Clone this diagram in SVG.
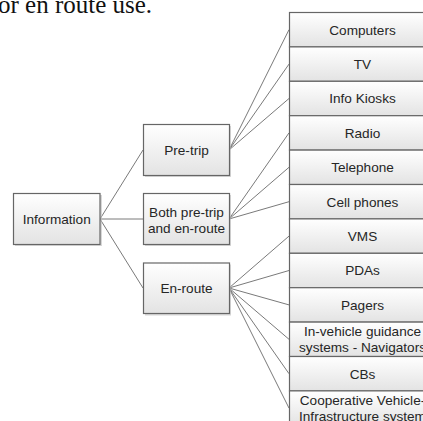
<svg xmlns="http://www.w3.org/2000/svg" width="423" height="421" viewBox="0 0 423 421">
<defs>
<linearGradient id="g" x1="0" y1="0" x2="0" y2="1">
<stop offset="0" stop-color="#ffffff"/>
<stop offset="1" stop-color="#e3e3e3"/>
</linearGradient>
</defs>
<style>
.box{fill:url(#g);stroke:#666666;stroke-width:1.2}
.sh{fill:#bdbdbd;opacity:0.6}
.t{font-family:"Liberation Sans",Arial,sans-serif;font-size:13.6px;fill:#262626;text-anchor:middle}
.c{stroke:#7a7a7a;stroke-width:1;fill:none}
.top{font-family:"Liberation Serif","Times New Roman",serif;font-size:25px;fill:#111}
</style>
<rect width="423" height="421" fill="#ffffff"/>
<text class="top" x="-2" y="13">or en route use.</text>
<g id="connectors">
<path class="c" d="M100,219 L143,150 M100,219 L143,219 M100,219 L143,288"/>
<path class="c" d="M229,150 L289,29.7 M229,150 L289,64.1 M229,150 L289,98.5"/>
<path class="c" d="M229,219 L289,132.9 M229,219 L289,167.3 M229,219 L289,201.7"/>
<path class="c" d="M229,288 L289,236.1 M229,288 L289,270.5 M229,288 L289,304.9 M229,288 L289,339.3 M229,288 L289,373.7 M229,288 L289,408.1"/>
</g>
<g id="information"><rect class="sh" x="15" y="195" width="87" height="51"/><rect class="box" x="13.5" y="193.5" width="86.5" height="51"/><text class="t" x="56.75" y="223.5">Information</text></g>
<g id="pre-trip"><rect class="sh" x="145" y="126" width="86" height="51"/><rect class="box" x="143.5" y="124.5" width="86" height="51"/><text class="t" x="186.5" y="154.8">Pre-trip</text></g>
<g id="both"><rect class="sh" x="145" y="195" width="86" height="51"/><rect class="box" x="143.5" y="193.5" width="86" height="51"/><text class="t" x="186.5" y="216.5">Both pre-trip</text><text class="t" x="186.5" y="232.5">and en-route</text></g>
<g id="en-route"><rect class="sh" x="145" y="264.5" width="86" height="51"/><rect class="box" x="143.5" y="263" width="86" height="50.5"/><text class="t" x="186.5" y="292.8">En-route</text></g>
<g id="computers"><rect class="box" x="289.5" y="12.5" width="150" height="34.4"/><text class="t" x="362.5" y="34.5">Computers</text></g>
<g id="tv"><rect class="box" x="289.5" y="46.9" width="150" height="34.4"/><text class="t" x="362.5" y="68.9">TV</text></g>
<g id="info-kiosks"><rect class="box" x="289.5" y="81.3" width="150" height="34.4"/><text class="t" x="362.5" y="103.3">Info Kiosks</text></g>
<g id="radio"><rect class="box" x="289.5" y="115.7" width="150" height="34.4"/><text class="t" x="362.5" y="137.7">Radio</text></g>
<g id="telephone"><rect class="box" x="289.5" y="150.1" width="150" height="34.4"/><text class="t" x="362.5" y="172.1">Telephone</text></g>
<g id="cell-phones"><rect class="box" x="289.5" y="184.5" width="150" height="34.4"/><text class="t" x="362.5" y="206.5">Cell phones</text></g>
<g id="vms"><rect class="box" x="289.5" y="218.9" width="150" height="34.4"/><text class="t" x="362.5" y="240.9">VMS</text></g>
<g id="pdas"><rect class="box" x="289.5" y="253.3" width="150" height="34.4"/><text class="t" x="362.5" y="275.3">PDAs</text></g>
<g id="pagers"><rect class="box" x="289.5" y="287.7" width="150" height="34.4"/><text class="t" x="362.5" y="309.7">Pagers</text></g>
<g id="in-vehicle"><rect class="box" x="289.5" y="322.1" width="150" height="34.4"/><text class="t" x="362.5" y="335.5">In-vehicle guidance</text><text class="t" x="362.5" y="351.5">systems - Navigators</text></g>
<g id="cbs"><rect class="box" x="289.5" y="356.5" width="150" height="34.4"/><text class="t" x="362.5" y="378.5">CBs</text></g>
<g id="cooperative"><rect class="box" x="289.5" y="390.9" width="150" height="34.4"/><text class="t" x="362.5" y="404.5">Cooperative Vehicle-</text><text class="t" x="362.5" y="420.5">Infrastructure system</text></g>
</svg>
